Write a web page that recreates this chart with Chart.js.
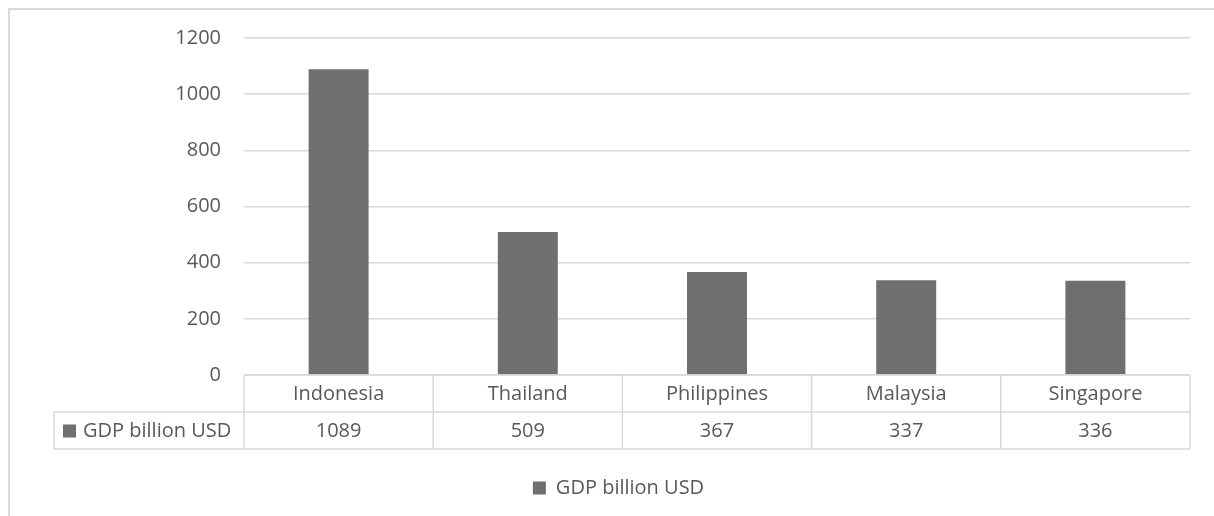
<!DOCTYPE html>
<html>
<head>
<meta charset="utf-8">
<script src="https://cdn.jsdelivr.net/npm/chart.js@4.4.1/dist/chart.umd.min.js"></script>
<style>
  html, body { margin: 0; padding: 0; background: #ffffff; }
  #wrap { width: 1214px; height: 516px; position: relative; }
  canvas { display: block; }
</style>
</head>
<body>
<div id="wrap"><canvas id="c" width="1214" height="516"></canvas></div>
<script>
// Chart data
const countries = ['Indonesia', 'Thailand', 'Philippines', 'Malaysia', 'Singapore'];
const gdpBillionUsd = [1089, 509, 367, 337, 336];
const seriesName = 'GDP billion USD';
const yAxisMin = 0;
const yAxisMax = 1200;
const yAxisStep = 200;

// Styling
const FONT = '"Open Sans", "Noto Sans", sans-serif';
const FONT_SIZE = 20;
const TEXT = '#595959';
const LINE = '#d9d9d9';
const BAR = '#6f6f6f';

// Outer frame of the chart object
const framePlugin = {
  id: 'frame',
  beforeDraw(chart) {
    const ctx = chart.ctx;
    ctx.save();
    ctx.strokeStyle = LINE;
    ctx.lineWidth = 2;
    ctx.beginPath();
    ctx.moveTo(9, chart.height);
    ctx.lineTo(9, 9);
    ctx.lineTo(chart.width, 9);
    ctx.stroke();
    ctx.restore();
  }
};

// Data table under the plot: category row + value row with legend key
const dataTablePlugin = {
  id: 'dataTable',
  afterDraw(chart) {
    const ctx = chart.ctx;
    const xs = chart.scales.x;
    const ys = chart.scales.y;
    const n = countries.length;
    const half = (xs.getPixelForValue(1) - xs.getPixelForValue(0)) / 2;
    const left = xs.getPixelForValue(0) - half;
    const right = xs.getPixelForValue(n - 1) + half;
    const rowH = 37;
    const y0 = ys.getPixelForValue(0);
    const y1 = y0 + rowH;
    const y2 = y1 + rowH;
    const keyLeft = 54;

    ctx.save();
    ctx.strokeStyle = LINE;
    ctx.lineWidth = 1.5;
    ctx.beginPath();
    // horizontal rules
    ctx.moveTo(left, y0); ctx.lineTo(right, y0);
    ctx.moveTo(keyLeft, y1); ctx.lineTo(right, y1);
    ctx.moveTo(keyLeft, y2); ctx.lineTo(right, y2);
    // vertical rules
    ctx.moveTo(keyLeft, y1); ctx.lineTo(keyLeft, y2);
    for (let i = 0; i <= n; i++) {
      const x = left + i * 2 * half;
      ctx.moveTo(x, y0); ctx.lineTo(x, y2);
    }
    ctx.stroke();

    ctx.fillStyle = TEXT;
    ctx.font = FONT_SIZE + 'px ' + FONT;
    ctx.textAlign = 'center';
    ctx.textBaseline = 'middle';
    for (let i = 0; i < n; i++) {
      const cx = xs.getPixelForValue(i);
      ctx.fillText(countries[i], cx, (y0 + y1) / 2 + 1);
      ctx.fillText(String(gdpBillionUsd[i]), cx, (y1 + y2) / 2 + 1);
    }

    // legend key inside the table
    const my = (y1 + y2) / 2;
    ctx.fillStyle = BAR;
    ctx.fillRect(63, my - 6, 13, 13);
    ctx.fillStyle = TEXT;
    ctx.textAlign = 'left';
    ctx.fillText(seriesName, 83, my + 1);
    ctx.restore();
  }
};

new Chart(document.getElementById('c'), {
  type: 'bar',
  data: {
    labels: countries,
    datasets: [{
      label: seriesName,
      data: gdpBillionUsd,
      backgroundColor: BAR,
      borderWidth: 0,
      categoryPercentage: 1,
      barPercentage: 0.317
    }]
  },
  options: {
    responsive: false,
    animation: false,
    layout: { padding: { left: 47, right: 24, top: 38, bottom: 8 } },
    plugins: {
      legend: {
        display: true,
        position: 'bottom',
        labels: {
          boxWidth: 13,
          boxHeight: 13,
          color: TEXT,
          font: { family: FONT, size: FONT_SIZE }
        }
      },
      tooltip: { enabled: false }
    },
    scales: {
      x: {
        grid: { display: false },
        border: { display: false },
        ticks: { display: false },
        afterFit(scale) { scale.height = 93; }
      },
      y: {
        min: yAxisMin,
        max: yAxisMax,
        grid: { color: LINE, lineWidth: 1.5, drawTicks: false },
        border: { display: false },
        ticks: {
          stepSize: yAxisStep,
          padding: 23,
          color: TEXT,
          font: { family: FONT, size: FONT_SIZE },
          callback: (v) => String(v)
        },
        afterFit(scale) { scale.width = 197; }
      }
    }
  },
  plugins: [framePlugin, dataTablePlugin]
});
</script>
</body>
</html>
